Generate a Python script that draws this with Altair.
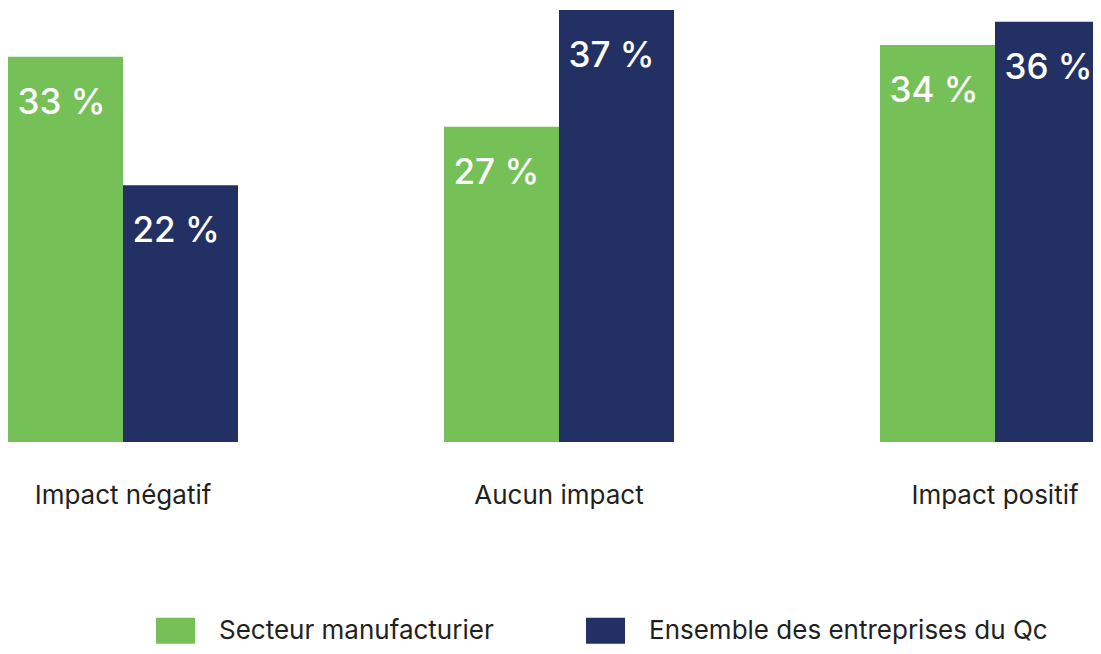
import altair as alt
import pandas as pd

categories = ["Impact négatif", "Aucun impact", "Impact positif"]
series = ["Secteur manufacturier", "Ensemble des entreprises du Qc"]
manuf = [33, 27, 34]
ensemble = [22, 37, 36]
colors = ["#75C158", "#233063"]

rows = []
for i, c in enumerate(categories):
    rows.append({"cat": c, "serie": series[0], "val": manuf[i], "label": f"{manuf[i]} %"})
    rows.append({"cat": c, "serie": series[1], "val": ensemble[i], "label": f"{ensemble[i]} %"})
df = pd.DataFrame(rows)

FONT = "Inter"

x = alt.X("cat:N", sort=categories, title=None,
          scale=alt.Scale(range=[0, 1102], paddingInner=0.4725, paddingOuter=0),
          axis=alt.Axis(domain=False, ticks=False, tickSize=0, labelAngle=0,
                        labelFontSize=26, labelFont=FONT, labelColor="#231F20",
                        labelBaseline="alphabetic", labelPadding=61))
xo = alt.XOffset("serie:N", sort=series, scale=alt.Scale(paddingInner=0, paddingOuter=0))
y = alt.Y("val:Q", scale=alt.Scale(domain=[0, 37], nice=False), axis=None)

bars = alt.Chart(df).mark_bar(clip=True).encode(
    x=x, xOffset=xo, y=y,
    color=alt.Color("serie:N", sort=series,
                    scale=alt.Scale(domain=series, range=colors),
                    legend=alt.Legend(
                        title=None, orient="none", direction="horizontal",
                        legendX=148, legendY=601,
                        symbolType="M-1,-0.667H1V0.667H-1Z", symbolSize=1521,
                        symbolStrokeWidth=0, symbolOpacity=1,
                        labelFontSize=26, labelFont=FONT, labelColor="#231F20",
                        labelOffset=24, columnPadding=92, padding=0,
                        labelLimit=600)),
)

labels = alt.Chart(df).mark_text(
    align="left", baseline="alphabetic", dx=-48, dy=57,
    fontSize=35, font=FONT, fontWeight=500, color="white"
).encode(x=x, xOffset=xo, y=y, text="label:N")

chart = (bars + labels).properties(
    width=1085, height=432,
    autosize=alt.AutoSizeParams(type="none"),
    padding={"left": 0, "top": 2, "right": 0, "bottom": 204}
).configure_view(stroke=None)

chart.save("out.html", embed_options={"renderer": "svg", "actions": False})
